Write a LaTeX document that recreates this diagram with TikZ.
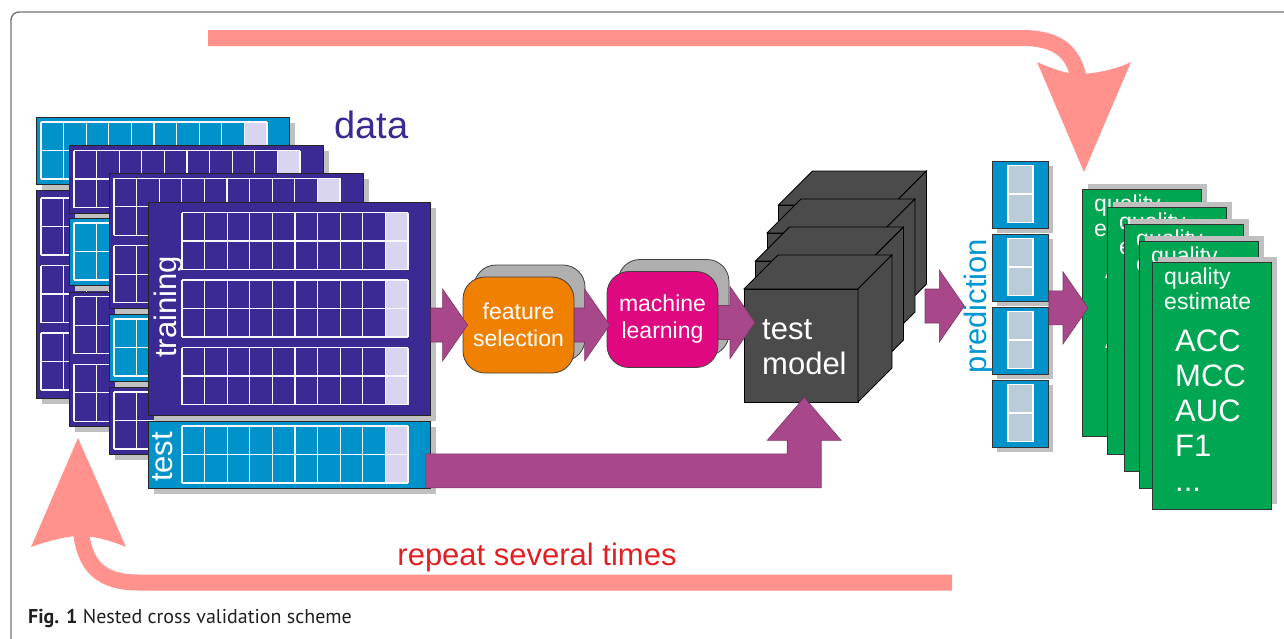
\documentclass[tikz,border=0pt]{standalone}
\usepackage{fontspec}
\setmainfont{Liberation Sans}
\newfontfamily\capfont{PT Sans}
\usetikzlibrary{calc}

\definecolor{sheetblue}{RGB}{59,41,148}
\definecolor{sheetcyan}{RGB}{0,146,202}
\definecolor{lastcell}{RGB}{217,213,240}
\definecolor{shadowgray}{RGB}{192,192,192}
\definecolor{procgray}{RGB}{175,175,175}
\definecolor{fsorange}{RGB}{240,128,0}
\definecolor{mlpink}{RGB}{224,8,128}
\definecolor{cubegray}{RGB}{75,75,75}
\definecolor{flowpurple}{RGB}{168,72,138}
\definecolor{loopred}{RGB}{255,146,140}
\definecolor{qgreen}{RGB}{0,166,82}
\definecolor{predcell}{RGB}{185,204,216}
\definecolor{predtext}{RGB}{0,150,210}
\definecolor{repeatred}{RGB}{226,32,36}
\definecolor{captext}{RGB}{35,31,32}

\tikzset{
  piece/.style={draw=black!85, line width=0.8pt, inner sep=0pt},
  gridline/.style={draw=white!85!lastcell, line width=1.2pt},
  proc/.style={draw=black!75, line width=0.8pt, rounded corners=22pt, minimum width=111pt, minimum height=96pt, inner sep=0pt, text=white, align=center, font=\fontsize{23}{27}\selectfont},
  procback/.style={proc, fill=procgray},
  cubeface/.style={fill=cubegray, draw=black, line width=0.8pt},
  predbox/.style={draw=black!80, line width=0.8pt, fill=sheetcyan, minimum width=56pt, minimum height=67pt, inner sep=0pt, anchor=north west},
  card/.style={draw=black!80, line width=0.8pt, fill=qgreen, minimum width=119pt, minimum height=247pt, inner sep=0pt, anchor=north west},
  cardsmall/.style={text=white, align=left, inner sep=0pt, anchor=north west, font=\fontsize{23}{25}\selectfont},
  cardbig/.style={text=white, align=left, inner sep=0pt, anchor=north west, font=\fontsize{31}{35}\selectfont},
  bigtext/.style={inner sep=0pt, font=\fontsize{31}{35}\selectfont},
  flow/.style={fill=flowpurple, draw=flowpurple!75!black, line width=0.6pt},
  loopband/.style={draw=loopred, line width=16pt},
  loophead/.style={fill=loopred},
  frame/.style={draw=black!55, line width=1.4pt, rounded corners=8pt}
}

% one fold of a data sheet: name, x, y, width, height, blocks, colour, left pad
\newcommand{\datapiece}[8]{%
  \fill[shadowgray] (#2+6,#3+6) rectangle ++(#4,#5);
  \node[piece, fill=#7, minimum width=#4pt, minimum height=#5pt, anchor=north west] (#1) at (#2,#3) {};
  \foreach \b in {1,...,#6}{%
    \pgfmathsetmacro\by{#3+(#5-57-(#6-1)*67.5)/2+(\b-1)*67.5}%
    \pgfmathsetmacro\bx{#2+#8}%
    \fill[lastcell] (\bx+203.4,\by) rectangle ++(22.6,57);
    \foreach \c in {0,...,10} \draw[gridline] (\bx+\c*22.6,\by) -- ++(0,57);
    \foreach \r in {0,1,2} \draw[gridline] (\bx,\by+\r*28.5) -- ++(226,0);
  }%
}

% a model cube, front face top left at x, y
\newcommand{\modelcube}[2]{%
  \filldraw[cubeface] (#1,#2) rectangle ++(114,113);
  \filldraw[cubeface] (#1,#2) -- ++(34,-34) -- ++(114,0) -- ++(-34,34) -- cycle;
  \filldraw[cubeface] (#1+114,#2) -- ++(34,-34) -- ++(0,113) -- ++(-34,34) -- cycle;
}

% fat arrow to the right, from #1 to the tip #2
\newcommand{\flowarrow}[2]{%
  \path[flow] let \p1=(#1), \p2=(#2) in
    (\x1,\y2+17pt) -- (\x2-25pt,\y2+17pt) -- (\x2-25pt,\y2+36pt) -- (\x2,\y2)
    -- (\x2-25pt,\y2-36pt) -- (\x2-25pt,\y2-17pt) -- (\x1,\y2-17pt) -- cycle;
}

\begin{document}
\begin{tikzpicture}[x=1pt, y=-1pt]
\useasboundingbox (0,0) rectangle (1284,638);
\draw[frame] (11,660) -- (11,12) -- (1300,12);

% repeat loops
\coordinate (topstart) at (208,38);
\coordinate (toptip) at (1084,172);
\draw[loopband] (topstart) -- (1022,38) .. controls (1058,38) and (1074,52) .. (1079,80);
\fill[loophead] (1037,62) .. controls (1055,70) and (1068,74) .. (1079,74) .. controls (1092,74) and (1115,70) .. (1131,62) -- (toptip) -- cycle;
\coordinate (botstart) at (952,582.5);
\coordinate (bottip) at (78,438);
\draw[loopband] (botstart) -- (138,582.5) .. controls (102,582.5) and (85,567) .. (81,532);
\fill[loophead] (31,547) .. controls (48,541) and (66,536) .. (80,536) .. controls (95,536) and (112,541) .. (126,547) -- (bottip) -- cycle;
\node[bigtext, text=repeatred, anchor=base] (repeat) at (537,565) {repeat several times};

% data sheets, back to front
\datapiece{g1a}{36}{117}{253}{67}{1}{sheetcyan}{5}
\datapiece{g1b}{36}{190}{253}{208}{3}{sheetblue}{5}
\datapiece{g2a}{69}{145}{254}{68}{1}{sheetblue}{5}
\datapiece{g2b}{69}{218}{254}{67}{1}{sheetcyan}{5}
\datapiece{g2c}{69}{292}{254}{134}{2}{sheetblue}{5}
\datapiece{g3a}{109}{173}{254}{135}{2}{sheetblue}{5}
\datapiece{g3b}{109}{314}{254}{67}{1}{sheetcyan}{5}
\datapiece{g3c}{109}{387}{254}{67}{1}{sheetblue}{5}
\datapiece{train}{148}{202}{282}{213}{3}{sheetblue}{34}
\datapiece{test}{148}{421}{282}{67}{1}{sheetcyan}{34}
\node[bigtext, text=white, rotate=90, anchor=base] (trainlabel) at (176,307) {training};
\node[bigtext, text=white, rotate=90, anchor=base] (testlabel) at (172,457) {test};
\node[inner sep=0pt, text=sheetblue, anchor=base west, font=\fontsize{38}{40}\selectfont] (data) at (334,138) {data};

% feature selection and learning
\node[procback] (fsback) at (529.5,313) {};
\node[proc, fill=fsorange] (fs) at (518.5,325) {feature\\selection};
\node[procback] (mlback) at (673.5,307.5) {};
\node[proc, fill=mlpink] (ml) at (662.5,319.5) {machine\\learning};

% model cubes
\foreach \k in {3,2,1}{\modelcube{744+11.5*\k}{289-28*\k}}
\modelcube{744}{289}
\node[inner sep=0pt, minimum width=114pt, minimum height=113pt, anchor=north west] (model) at (744,289) {};
\node[bigtext, text=white, align=left, anchor=north west] (modeltext) at (762,319) {test\\model};
\coordinate (modelback) at (925,307);

% predictions
\foreach \i/\py in {1/160.5,2/233.5,3/306.5,4/379.5}{
  \fill[shadowgray] (997,\py+5) rectangle ++(56,67);
  \node[predbox] (pred\i) at (992,\py) {};
  \fill[predcell] (1008,\py+5) rectangle ++(25,57);
  \draw[gridline, draw=white] (1008,\py+5) rectangle ++(25,57) (1008,\py+33.5) -- ++(25,0);
}
\node[bigtext, text=predtext, rotate=90, anchor=base] (pred) at (986,306) {prediction};

% quality estimates
\foreach \cx/\cy/\i in {1082/189/1,1107/207/2,1124/224/3,1139/241/4,1152/262/5}{
  \fill[shadowgray] (\cx+6,\cy-5) rectangle ++(119,247);
  \node[card] (q\i) at (\cx,\cy) {};
  \node[cardsmall] (qt\i) at (\cx+12,\cy+6) {quality\\estimate};
  \node[cardbig] (qm\i) at (\cx+23,\cy+68) {ACC\\MCC\\AUC\\F1\\...};
}

% flow arrows
\flowarrow{train.east}{$(fs.west)+(5,0)$}
\flowarrow{fs.east}{$(ml.west |- fs.east)+(3,0)$}
\flowarrow{ml.east}{$(model.west |- ml.east)+(11,3)$}
\flowarrow{modelback}{$(pred.north)+(1,0)$}
\flowarrow{pred3.east}{$(q1.west)+(6,-5)$}
\path[flow] let \p1=($(test.east)+(-5,16)$), \p2=($(model.south)+(3,-5)$) in
  (\x1,\y1+17pt) -- (\x2-17pt,\y1+17pt) -- (\x2-17pt,\y2-43pt) -- (\x2-37pt,\y2-43pt) -- (\x2,\y2)
  -- (\x2+37pt,\y2-43pt) -- (\x2+17pt,\y2-43pt) -- (\x2+17pt,\y1-17pt) -- (\x1,\y1-17pt) -- cycle;

\node[inner sep=0pt, anchor=base west, text=captext, font=\capfont\fontsize{20}{24}\selectfont] (caption) at (28,623) {\textbf{Fig. 1} Nested cross validation scheme};
\end{tikzpicture}
\end{document}
